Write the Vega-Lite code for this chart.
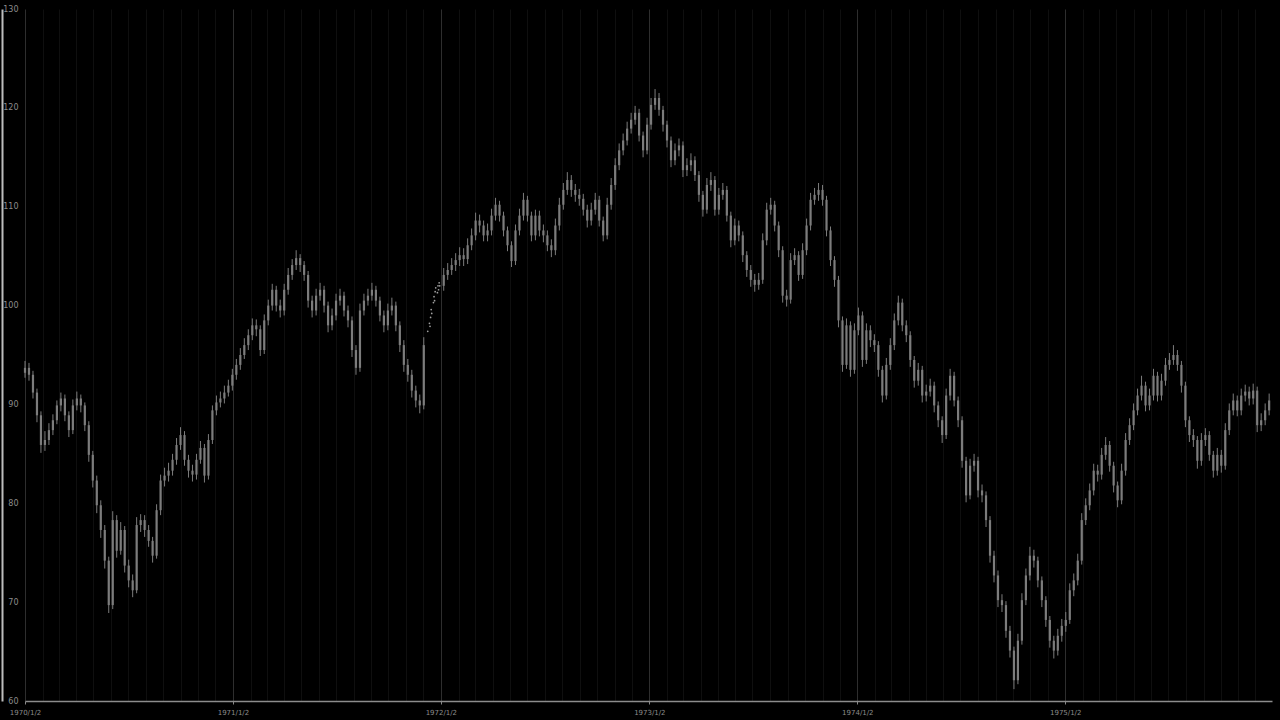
{
"$schema":"https://vega.github.io/schema/vega-lite/v6.json",
"width":1247,"height":692,
"autosize":{"type":"none"},
"padding":{"left":25,"top":9,"right":8,"bottom":19},
"background":"#000000",
"config":{"view":{"stroke":null},"axis":{"labelFont":"DejaVu Sans","titleFont":"DejaVu Sans"}},
"data":{"values":[
{"t":"1970-01-02","o":93.2,"h":94.4,"l":92.7,"c":93.7},
{"t":"1970-01-09","o":93.7,"h":94.2,"l":92.4,"c":93.0},
{"t":"1970-01-16","o":93.0,"h":93.4,"l":90.6,"c":91.2},
{"t":"1970-01-23","o":91.2,"h":91.6,"l":88.2,"c":88.9},
{"t":"1970-01-30","o":88.9,"h":89.3,"l":85.1,"c":85.9},
{"t":"1970-02-06","o":85.9,"h":87.3,"l":85.3,"c":86.4},
{"t":"1970-02-13","o":86.4,"h":88.1,"l":85.9,"c":87.4},
{"t":"1970-02-20","o":87.4,"h":89.0,"l":86.9,"c":88.4},
{"t":"1970-02-27","o":88.4,"h":90.4,"l":88.0,"c":89.9},
{"t":"1970-03-06","o":89.9,"h":91.2,"l":89.3,"c":90.6},
{"t":"1970-03-13","o":90.6,"h":91.0,"l":88.3,"c":88.9},
{"t":"1970-03-20","o":88.9,"h":89.3,"l":86.7,"c":87.4},
{"t":"1970-03-27","o":87.4,"h":90.5,"l":87.0,"c":89.9},
{"t":"1970-04-03","o":89.9,"h":91.3,"l":89.4,"c":90.6},
{"t":"1970-04-10","o":90.6,"h":91.0,"l":89.2,"c":89.9},
{"t":"1970-04-17","o":89.9,"h":90.2,"l":87.3,"c":87.9},
{"t":"1970-04-24","o":87.9,"h":88.3,"l":84.2,"c":84.9},
{"t":"1970-05-01","o":84.9,"h":85.3,"l":81.6,"c":82.3},
{"t":"1970-05-08","o":82.3,"h":82.8,"l":79.0,"c":79.8},
{"t":"1970-05-15","o":79.8,"h":80.3,"l":76.5,"c":77.3},
{"t":"1970-05-22","o":77.3,"h":77.8,"l":73.4,"c":74.2},
{"t":"1970-05-29","o":74.2,"h":74.6,"l":68.9,"c":69.7},
{"t":"1970-06-05","o":69.7,"h":79.2,"l":69.3,"c":78.3},
{"t":"1970-06-12","o":78.3,"h":78.8,"l":74.5,"c":75.2},
{"t":"1970-06-19","o":75.2,"h":78.1,"l":74.8,"c":77.3},
{"t":"1970-06-26","o":77.3,"h":77.7,"l":73.0,"c":73.7},
{"t":"1970-07-03","o":73.7,"h":74.3,"l":71.5,"c":72.2},
{"t":"1970-07-10","o":72.2,"h":72.8,"l":70.5,"c":71.2},
{"t":"1970-07-17","o":71.2,"h":78.6,"l":70.9,"c":77.8},
{"t":"1970-07-24","o":77.8,"h":78.9,"l":77.1,"c":78.3},
{"t":"1970-07-31","o":78.3,"h":78.8,"l":76.6,"c":77.3},
{"t":"1970-08-07","o":77.3,"h":77.8,"l":75.6,"c":76.2},
{"t":"1970-08-14","o":76.2,"h":76.6,"l":74.0,"c":74.7},
{"t":"1970-08-21","o":74.7,"h":79.9,"l":74.4,"c":79.3},
{"t":"1970-08-28","o":79.3,"h":82.9,"l":78.8,"c":82.3},
{"t":"1970-09-04","o":82.3,"h":83.6,"l":81.7,"c":82.8},
{"t":"1970-09-11","o":82.8,"h":84.1,"l":82.2,"c":83.3},
{"t":"1970-09-18","o":83.3,"h":85.0,"l":82.8,"c":84.4},
{"t":"1970-09-25","o":84.4,"h":86.6,"l":83.9,"c":85.9},
{"t":"1970-10-02","o":85.9,"h":87.7,"l":85.4,"c":86.9},
{"t":"1970-10-09","o":86.9,"h":87.3,"l":83.8,"c":84.4},
{"t":"1970-10-16","o":84.4,"h":84.9,"l":82.6,"c":83.3},
{"t":"1970-10-23","o":83.3,"h":83.9,"l":82.2,"c":82.9},
{"t":"1970-10-30","o":82.9,"h":85.0,"l":82.4,"c":84.4},
{"t":"1970-11-06","o":84.4,"h":86.3,"l":84.0,"c":85.6},
{"t":"1970-11-13","o":85.6,"h":86.0,"l":82.1,"c":82.8},
{"t":"1970-11-20","o":82.8,"h":87.0,"l":82.4,"c":86.4},
{"t":"1970-11-27","o":86.4,"h":89.9,"l":86.0,"c":89.4},
{"t":"1970-12-04","o":89.4,"h":90.9,"l":88.9,"c":90.2},
{"t":"1970-12-11","o":90.2,"h":91.3,"l":89.7,"c":90.6},
{"t":"1970-12-18","o":90.6,"h":91.9,"l":90.1,"c":91.2},
{"t":"1970-12-25","o":91.2,"h":92.5,"l":90.8,"c":91.9},
{"t":"1971-01-01","o":91.9,"h":93.6,"l":91.4,"c":93.0},
{"t":"1971-01-08","o":93.0,"h":94.6,"l":92.5,"c":94.0},
{"t":"1971-01-15","o":94.0,"h":95.7,"l":93.5,"c":95.0},
{"t":"1971-01-22","o":95.0,"h":96.7,"l":94.6,"c":96.0},
{"t":"1971-01-29","o":96.0,"h":97.6,"l":95.5,"c":97.0},
{"t":"1971-02-05","o":97.0,"h":98.7,"l":96.5,"c":98.0},
{"t":"1971-02-12","o":98.0,"h":98.6,"l":96.9,"c":97.6},
{"t":"1971-02-19","o":97.6,"h":98.0,"l":94.9,"c":95.5},
{"t":"1971-02-26","o":95.5,"h":99.1,"l":95.1,"c":98.5},
{"t":"1971-03-05","o":98.5,"h":100.6,"l":98.0,"c":100.0},
{"t":"1971-03-12","o":100.0,"h":102.2,"l":99.5,"c":101.6},
{"t":"1971-03-19","o":101.6,"h":102.0,"l":99.4,"c":100.0},
{"t":"1971-03-26","o":100.0,"h":100.6,"l":98.8,"c":99.5},
{"t":"1971-04-02","o":99.5,"h":102.2,"l":99.0,"c":101.6},
{"t":"1971-04-09","o":101.6,"h":103.8,"l":101.1,"c":103.1},
{"t":"1971-04-16","o":103.1,"h":104.7,"l":102.6,"c":104.1},
{"t":"1971-04-23","o":104.1,"h":105.6,"l":103.6,"c":104.8},
{"t":"1971-04-30","o":104.8,"h":105.2,"l":103.4,"c":104.1},
{"t":"1971-05-07","o":104.1,"h":104.5,"l":102.5,"c":103.1},
{"t":"1971-05-14","o":103.1,"h":103.5,"l":99.8,"c":100.5},
{"t":"1971-05-21","o":100.5,"h":101.0,"l":98.8,"c":99.5},
{"t":"1971-05-28","o":99.5,"h":101.7,"l":99.0,"c":101.0},
{"t":"1971-06-04","o":101.0,"h":102.3,"l":100.5,"c":101.6},
{"t":"1971-06-11","o":101.6,"h":102.0,"l":99.3,"c":100.0},
{"t":"1971-06-18","o":100.0,"h":100.4,"l":97.3,"c":98.0},
{"t":"1971-06-25","o":98.0,"h":99.7,"l":97.5,"c":99.0},
{"t":"1971-07-02","o":99.0,"h":101.2,"l":98.5,"c":100.5},
{"t":"1971-07-09","o":100.5,"h":101.7,"l":100.0,"c":101.0},
{"t":"1971-07-16","o":101.0,"h":101.4,"l":98.9,"c":99.5},
{"t":"1971-07-23","o":99.5,"h":100.0,"l":97.8,"c":98.5},
{"t":"1971-07-30","o":98.5,"h":98.9,"l":94.8,"c":95.5},
{"t":"1971-08-06","o":95.5,"h":96.0,"l":93.0,"c":93.7},
{"t":"1971-08-13","o":93.7,"h":100.2,"l":93.3,"c":99.5},
{"t":"1971-08-20","o":99.5,"h":101.2,"l":99.0,"c":100.5},
{"t":"1971-08-27","o":100.5,"h":101.7,"l":100.0,"c":101.0},
{"t":"1971-09-03","o":101.0,"h":102.3,"l":100.5,"c":101.6},
{"t":"1971-09-10","o":101.6,"h":102.0,"l":99.9,"c":100.5},
{"t":"1971-09-17","o":100.5,"h":100.9,"l":98.4,"c":99.0},
{"t":"1971-09-24","o":99.0,"h":99.5,"l":97.3,"c":98.0},
{"t":"1971-10-01","o":98.0,"h":100.2,"l":97.5,"c":99.5},
{"t":"1971-10-08","o":99.5,"h":100.8,"l":99.0,"c":100.0},
{"t":"1971-10-15","o":100.0,"h":100.4,"l":97.4,"c":98.0},
{"t":"1971-10-22","o":98.0,"h":98.4,"l":95.3,"c":96.0},
{"t":"1971-10-29","o":96.0,"h":96.5,"l":93.3,"c":94.0},
{"t":"1971-11-05","o":94.0,"h":94.6,"l":92.3,"c":93.0},
{"t":"1971-11-12","o":93.0,"h":93.5,"l":90.7,"c":91.4},
{"t":"1971-11-19","o":91.4,"h":91.9,"l":89.7,"c":90.4},
{"t":"1971-11-26","o":90.4,"h":91.0,"l":89.1,"c":89.9},
{"t":"1971-12-03","o":89.9,"h":96.8,"l":89.5,"c":96.0},
{"t":"1971-12-10","c":97.4},
{"t":"1971-12-13","c":98.2},
{"t":"1971-12-14","c":97.9},
{"t":"1971-12-15","c":98.8},
{"t":"1971-12-16","c":99.6},
{"t":"1971-12-17","c":99.2},
{"t":"1971-12-20","c":100.3},
{"t":"1971-12-21","c":100.9},
{"t":"1971-12-22","c":100.5},
{"t":"1971-12-23","c":101.4},
{"t":"1971-12-24","c":101.8},
{"t":"1971-12-27","c":101.3},
{"t":"1971-12-28","c":102.0},
{"t":"1971-12-29","c":101.6},
{"t":"1971-12-30","c":102.3},
{"t":"1971-12-31","c":102.0},
{"t":"1972-01-07","o":102.0,"h":103.8,"l":101.5,"c":103.1},
{"t":"1972-01-14","o":103.1,"h":104.3,"l":102.6,"c":103.6},
{"t":"1972-01-21","o":103.6,"h":104.8,"l":103.1,"c":104.1},
{"t":"1972-01-28","o":104.1,"h":105.3,"l":103.5,"c":104.6},
{"t":"1972-02-04","o":104.6,"h":105.9,"l":104.0,"c":105.1},
{"t":"1972-02-11","o":105.1,"h":105.8,"l":104.0,"c":104.7},
{"t":"1972-02-18","o":104.7,"h":106.8,"l":104.2,"c":106.1},
{"t":"1972-02-25","o":106.1,"h":107.8,"l":105.6,"c":107.1},
{"t":"1972-03-03","o":107.1,"h":109.4,"l":106.6,"c":108.6},
{"t":"1972-03-10","o":108.6,"h":109.2,"l":107.4,"c":108.1},
{"t":"1972-03-17","o":108.1,"h":108.6,"l":106.5,"c":107.1},
{"t":"1972-03-24","o":107.1,"h":108.3,"l":106.5,"c":107.6},
{"t":"1972-03-31","o":107.6,"h":109.8,"l":107.1,"c":109.1},
{"t":"1972-04-07","o":109.1,"h":110.9,"l":108.6,"c":110.2},
{"t":"1972-04-14","o":110.2,"h":110.6,"l":108.5,"c":109.1},
{"t":"1972-04-21","o":109.1,"h":109.5,"l":107.0,"c":107.6},
{"t":"1972-04-28","o":107.6,"h":108.0,"l":105.5,"c":106.1},
{"t":"1972-05-05","o":106.1,"h":106.5,"l":103.9,"c":104.5},
{"t":"1972-05-12","o":104.5,"h":108.2,"l":104.1,"c":107.6},
{"t":"1972-05-19","o":107.6,"h":109.8,"l":107.1,"c":109.1},
{"t":"1972-05-26","o":109.1,"h":111.4,"l":108.6,"c":110.7},
{"t":"1972-06-02","o":110.7,"h":111.1,"l":108.5,"c":109.1},
{"t":"1972-06-09","o":109.1,"h":109.5,"l":106.5,"c":107.1},
{"t":"1972-06-16","o":107.1,"h":109.7,"l":106.6,"c":109.1},
{"t":"1972-06-23","o":109.1,"h":109.6,"l":107.0,"c":107.6},
{"t":"1972-06-30","o":107.6,"h":108.2,"l":106.4,"c":107.1},
{"t":"1972-07-07","o":107.1,"h":107.6,"l":105.5,"c":106.1},
{"t":"1972-07-14","o":106.1,"h":106.7,"l":104.9,"c":105.6},
{"t":"1972-07-21","o":105.6,"h":108.8,"l":105.1,"c":108.1},
{"t":"1972-07-28","o":108.1,"h":110.9,"l":107.6,"c":110.2},
{"t":"1972-08-04","o":110.2,"h":112.4,"l":109.7,"c":111.7},
{"t":"1972-08-11","o":111.7,"h":113.5,"l":111.2,"c":112.7},
{"t":"1972-08-18","o":112.7,"h":113.2,"l":111.0,"c":111.7},
{"t":"1972-08-25","o":111.7,"h":112.3,"l":110.5,"c":111.2},
{"t":"1972-09-01","o":111.2,"h":111.8,"l":110.1,"c":110.8},
{"t":"1972-09-08","o":110.8,"h":111.3,"l":109.1,"c":109.7},
{"t":"1972-09-15","o":109.7,"h":110.2,"l":107.9,"c":108.6},
{"t":"1972-09-22","o":108.6,"h":110.4,"l":108.1,"c":109.7},
{"t":"1972-09-29","o":109.7,"h":111.4,"l":109.2,"c":110.7},
{"t":"1972-10-06","o":110.7,"h":111.1,"l":108.0,"c":108.6},
{"t":"1972-10-13","o":108.6,"h":109.0,"l":106.5,"c":107.1},
{"t":"1972-10-20","o":107.1,"h":110.9,"l":106.7,"c":110.2},
{"t":"1972-10-27","o":110.2,"h":112.9,"l":109.7,"c":112.2},
{"t":"1972-11-03","o":112.2,"h":114.9,"l":111.7,"c":114.2},
{"t":"1972-11-10","o":114.2,"h":116.4,"l":113.7,"c":115.7},
{"t":"1972-11-17","o":115.7,"h":117.4,"l":115.2,"c":116.7},
{"t":"1972-11-24","o":116.7,"h":118.6,"l":116.2,"c":117.9},
{"t":"1972-12-01","o":117.9,"h":119.5,"l":117.4,"c":118.8},
{"t":"1972-12-08","o":118.8,"h":120.2,"l":118.3,"c":119.5},
{"t":"1972-12-15","o":119.5,"h":119.9,"l":116.6,"c":117.2},
{"t":"1972-12-22","o":117.2,"h":117.6,"l":115.0,"c":115.7},
{"t":"1972-12-29","o":115.7,"h":119.0,"l":115.3,"c":118.3},
{"t":"1973-01-05","o":118.3,"h":121.0,"l":117.8,"c":120.3},
{"t":"1973-01-12","o":120.3,"h":121.9,"l":119.8,"c":121.0},
{"t":"1973-01-19","o":121.0,"h":121.5,"l":119.2,"c":119.8},
{"t":"1973-01-26","o":119.8,"h":120.2,"l":117.6,"c":118.3},
{"t":"1973-02-02","o":118.3,"h":118.7,"l":116.0,"c":116.7},
{"t":"1973-02-09","o":116.7,"h":117.1,"l":114.0,"c":114.7},
{"t":"1973-02-16","o":114.7,"h":116.4,"l":114.2,"c":115.7},
{"t":"1973-02-23","o":115.7,"h":116.9,"l":115.1,"c":116.2},
{"t":"1973-03-02","o":116.2,"h":116.6,"l":113.0,"c":113.7},
{"t":"1973-03-09","o":113.7,"h":114.9,"l":113.1,"c":114.2},
{"t":"1973-03-16","o":114.2,"h":115.4,"l":113.6,"c":114.7},
{"t":"1973-03-23","o":114.7,"h":115.1,"l":112.6,"c":113.2},
{"t":"1973-03-30","o":113.2,"h":113.6,"l":110.5,"c":111.2},
{"t":"1973-04-06","o":111.2,"h":111.6,"l":109.0,"c":109.7},
{"t":"1973-04-13","o":109.7,"h":112.9,"l":109.3,"c":112.2},
{"t":"1973-04-20","o":112.2,"h":113.5,"l":111.6,"c":112.7},
{"t":"1973-04-27","o":112.7,"h":113.1,"l":109.1,"c":109.7},
{"t":"1973-05-04","o":109.7,"h":111.9,"l":109.2,"c":111.2},
{"t":"1973-05-11","o":111.2,"h":112.4,"l":110.7,"c":111.7},
{"t":"1973-05-18","o":111.7,"h":112.1,"l":108.5,"c":109.1},
{"t":"1973-05-25","o":109.1,"h":109.5,"l":105.9,"c":106.6},
{"t":"1973-06-01","o":106.6,"h":108.8,"l":106.1,"c":108.1},
{"t":"1973-06-08","o":108.1,"h":108.6,"l":106.5,"c":107.1},
{"t":"1973-06-15","o":107.1,"h":107.5,"l":104.4,"c":105.1},
{"t":"1973-06-22","o":105.1,"h":105.5,"l":102.9,"c":103.6},
{"t":"1973-06-29","o":103.6,"h":104.1,"l":101.9,"c":102.6},
{"t":"1973-07-06","o":102.6,"h":103.2,"l":101.4,"c":102.1},
{"t":"1973-07-13","o":102.1,"h":103.3,"l":101.6,"c":102.6},
{"t":"1973-07-20","o":102.6,"h":107.3,"l":102.2,"c":106.6},
{"t":"1973-07-27","o":106.6,"h":110.4,"l":106.1,"c":109.7},
{"t":"1973-08-03","o":109.7,"h":110.9,"l":109.2,"c":110.2},
{"t":"1973-08-10","o":110.2,"h":110.6,"l":107.5,"c":108.1},
{"t":"1973-08-17","o":108.1,"h":108.5,"l":104.9,"c":105.6},
{"t":"1973-08-24","o":105.6,"h":106.0,"l":100.3,"c":101.0},
{"t":"1973-08-31","o":101.0,"h":101.6,"l":99.9,"c":100.6},
{"t":"1973-09-07","o":100.6,"h":105.3,"l":100.2,"c":104.6},
{"t":"1973-09-14","o":104.6,"h":105.8,"l":104.1,"c":105.1},
{"t":"1973-09-21","o":105.1,"h":105.5,"l":102.5,"c":103.1},
{"t":"1973-09-28","o":103.1,"h":106.3,"l":102.7,"c":105.6},
{"t":"1973-10-05","o":105.6,"h":108.8,"l":105.1,"c":108.1},
{"t":"1973-10-12","o":108.1,"h":111.4,"l":107.6,"c":110.7},
{"t":"1973-10-19","o":110.7,"h":111.9,"l":110.2,"c":111.2},
{"t":"1973-10-26","o":111.2,"h":112.4,"l":110.6,"c":111.7},
{"t":"1973-11-02","o":111.7,"h":112.2,"l":110.1,"c":110.7},
{"t":"1973-11-09","o":110.7,"h":111.1,"l":107.0,"c":107.6},
{"t":"1973-11-16","o":107.6,"h":108.0,"l":104.0,"c":104.6},
{"t":"1973-11-23","o":104.6,"h":105.0,"l":101.9,"c":102.6},
{"t":"1973-11-30","o":102.6,"h":103.0,"l":97.8,"c":98.5},
{"t":"1973-12-07","o":98.5,"h":98.9,"l":93.3,"c":94.0},
{"t":"1973-12-14","o":94.0,"h":98.7,"l":93.6,"c":98.0},
{"t":"1973-12-21","o":98.0,"h":98.4,"l":92.8,"c":93.5},
{"t":"1973-12-28","o":93.5,"h":98.2,"l":93.1,"c":97.5},
{"t":"1974-01-04","o":97.5,"h":99.8,"l":97.0,"c":99.0},
{"t":"1974-01-11","o":99.0,"h":99.4,"l":93.8,"c":94.5},
{"t":"1974-01-18","o":94.5,"h":98.2,"l":94.1,"c":97.5},
{"t":"1974-01-25","o":97.5,"h":98.0,"l":95.8,"c":96.5},
{"t":"1974-02-01","o":96.5,"h":97.1,"l":95.3,"c":96.0},
{"t":"1974-02-08","o":96.0,"h":96.4,"l":92.8,"c":93.5},
{"t":"1974-02-15","o":93.5,"h":93.9,"l":90.2,"c":90.9},
{"t":"1974-02-22","o":90.9,"h":94.7,"l":90.5,"c":94.0},
{"t":"1974-03-01","o":94.0,"h":96.7,"l":93.5,"c":96.0},
{"t":"1974-03-08","o":96.0,"h":99.2,"l":95.5,"c":98.5},
{"t":"1974-03-15","o":98.5,"h":101.0,"l":98.0,"c":100.3},
{"t":"1974-03-22","o":100.3,"h":100.7,"l":97.4,"c":98.0},
{"t":"1974-03-29","o":98.0,"h":98.5,"l":96.3,"c":97.0},
{"t":"1974-04-05","o":97.0,"h":97.4,"l":93.8,"c":94.5},
{"t":"1974-04-12","o":94.5,"h":94.9,"l":91.7,"c":92.4},
{"t":"1974-04-19","o":92.4,"h":94.2,"l":91.9,"c":93.5},
{"t":"1974-04-26","o":93.5,"h":93.9,"l":90.2,"c":90.9},
{"t":"1974-05-03","o":90.9,"h":92.0,"l":90.3,"c":91.3},
{"t":"1974-05-10","o":91.3,"h":92.6,"l":90.8,"c":91.9},
{"t":"1974-05-17","o":91.9,"h":92.3,"l":89.2,"c":89.9},
{"t":"1974-05-24","o":89.9,"h":90.3,"l":87.7,"c":88.4},
{"t":"1974-05-31","o":88.4,"h":88.8,"l":86.1,"c":86.9},
{"t":"1974-06-07","o":86.9,"h":91.6,"l":86.5,"c":90.9},
{"t":"1974-06-14","o":90.9,"h":93.6,"l":90.4,"c":92.9},
{"t":"1974-06-21","o":92.9,"h":93.3,"l":89.8,"c":90.4},
{"t":"1974-06-28","o":90.4,"h":90.8,"l":87.7,"c":88.4},
{"t":"1974-07-05","o":88.4,"h":88.8,"l":83.6,"c":84.3},
{"t":"1974-07-12","o":84.3,"h":84.7,"l":80.1,"c":80.8},
{"t":"1974-07-19","o":80.8,"h":84.5,"l":80.4,"c":83.8},
{"t":"1974-07-26","o":83.8,"h":85.0,"l":83.2,"c":84.3},
{"t":"1974-08-02","o":84.3,"h":84.7,"l":80.6,"c":81.3},
{"t":"1974-08-09","o":81.3,"h":81.9,"l":80.1,"c":80.8},
{"t":"1974-08-16","o":80.8,"h":81.2,"l":77.6,"c":78.3},
{"t":"1974-08-23","o":78.3,"h":78.7,"l":74.0,"c":74.7},
{"t":"1974-08-30","o":74.7,"h":75.2,"l":72.0,"c":72.7},
{"t":"1974-09-06","o":72.7,"h":73.2,"l":69.5,"c":70.2},
{"t":"1974-09-13","o":70.2,"h":70.8,"l":69.0,"c":69.7},
{"t":"1974-09-20","o":69.7,"h":70.1,"l":66.4,"c":67.1},
{"t":"1974-09-27","o":67.1,"h":67.6,"l":64.4,"c":65.1},
{"t":"1974-10-04","o":65.1,"h":65.5,"l":61.2,"c":62.1},
{"t":"1974-10-11","o":62.1,"h":66.8,"l":61.7,"c":66.1},
{"t":"1974-10-18","o":66.1,"h":70.9,"l":65.7,"c":70.2},
{"t":"1974-10-25","o":70.2,"h":73.4,"l":69.7,"c":72.7},
{"t":"1974-11-01","o":72.7,"h":75.6,"l":72.2,"c":74.7},
{"t":"1974-11-08","o":74.7,"h":75.3,"l":73.5,"c":74.2},
{"t":"1974-11-15","o":74.2,"h":74.6,"l":71.5,"c":72.2},
{"t":"1974-11-22","o":72.2,"h":72.6,"l":69.5,"c":70.2},
{"t":"1974-11-29","o":70.2,"h":70.6,"l":67.5,"c":68.2},
{"t":"1974-12-06","o":68.2,"h":68.6,"l":65.4,"c":66.1},
{"t":"1974-12-13","o":66.1,"h":66.6,"l":64.3,"c":65.1},
{"t":"1974-12-20","o":65.1,"h":67.3,"l":64.6,"c":66.6},
{"t":"1974-12-27","o":66.6,"h":68.3,"l":66.0,"c":67.6},
{"t":"1975-01-03","o":67.6,"h":69.0,"l":67.0,"c":68.2},
{"t":"1975-01-10","o":68.2,"h":71.9,"l":67.8,"c":71.2},
{"t":"1975-01-17","o":71.2,"h":72.9,"l":70.6,"c":72.2},
{"t":"1975-01-24","o":72.2,"h":74.9,"l":71.7,"c":74.2},
{"t":"1975-01-31","o":74.2,"h":79.0,"l":73.8,"c":78.3},
{"t":"1975-02-07","o":78.3,"h":80.5,"l":77.8,"c":79.8},
{"t":"1975-02-14","o":79.8,"h":82.0,"l":79.3,"c":81.3},
{"t":"1975-02-21","o":81.3,"h":84.0,"l":80.8,"c":83.3},
{"t":"1975-02-28","o":83.3,"h":83.9,"l":82.2,"c":82.9},
{"t":"1975-03-07","o":82.9,"h":85.6,"l":82.4,"c":84.9},
{"t":"1975-03-14","o":84.9,"h":86.7,"l":84.4,"c":85.9},
{"t":"1975-03-21","o":85.9,"h":86.3,"l":83.2,"c":83.8},
{"t":"1975-03-28","o":83.8,"h":84.2,"l":81.1,"c":81.8},
{"t":"1975-04-04","o":81.8,"h":82.2,"l":79.6,"c":80.3},
{"t":"1975-04-11","o":80.3,"h":84.0,"l":79.9,"c":83.3},
{"t":"1975-04-18","o":83.3,"h":87.1,"l":82.8,"c":86.4},
{"t":"1975-04-25","o":86.4,"h":88.6,"l":85.9,"c":87.9},
{"t":"1975-05-02","o":87.9,"h":90.1,"l":87.4,"c":89.4},
{"t":"1975-05-09","o":89.4,"h":91.6,"l":88.9,"c":90.9},
{"t":"1975-05-16","o":90.9,"h":92.9,"l":90.4,"c":91.9},
{"t":"1975-05-23","o":91.9,"h":92.3,"l":89.3,"c":89.9},
{"t":"1975-05-30","o":89.9,"h":91.6,"l":89.4,"c":90.9},
{"t":"1975-06-06","o":90.9,"h":93.6,"l":90.4,"c":92.9},
{"t":"1975-06-13","o":92.9,"h":93.3,"l":90.3,"c":90.9},
{"t":"1975-06-20","o":90.9,"h":93.1,"l":90.4,"c":92.4},
{"t":"1975-06-27","o":92.4,"h":94.7,"l":91.9,"c":94.0},
{"t":"1975-07-04","o":94.0,"h":95.2,"l":93.5,"c":94.5},
{"t":"1975-07-11","o":94.5,"h":96.0,"l":94.0,"c":95.0},
{"t":"1975-07-18","o":95.0,"h":95.5,"l":93.4,"c":94.0},
{"t":"1975-07-25","o":94.0,"h":94.4,"l":91.2,"c":91.9},
{"t":"1975-08-01","o":91.9,"h":92.3,"l":87.7,"c":88.4},
{"t":"1975-08-08","o":88.4,"h":88.8,"l":86.2,"c":86.9},
{"t":"1975-08-15","o":86.9,"h":87.5,"l":85.7,"c":86.4},
{"t":"1975-08-22","o":86.4,"h":86.8,"l":83.5,"c":84.3},
{"t":"1975-08-29","o":84.3,"h":87.1,"l":83.8,"c":86.4},
{"t":"1975-09-05","o":86.4,"h":87.6,"l":85.8,"c":86.9},
{"t":"1975-09-12","o":86.9,"h":87.3,"l":84.3,"c":84.9},
{"t":"1975-09-19","o":84.9,"h":85.3,"l":82.6,"c":83.3},
{"t":"1975-09-26","o":83.3,"h":85.6,"l":82.8,"c":84.9},
{"t":"1975-10-03","o":84.9,"h":85.4,"l":83.1,"c":83.8},
{"t":"1975-10-10","o":83.8,"h":88.1,"l":83.4,"c":87.4},
{"t":"1975-10-17","o":87.4,"h":90.1,"l":86.9,"c":89.4},
{"t":"1975-10-24","o":89.4,"h":91.1,"l":88.9,"c":90.4},
{"t":"1975-10-31","o":90.4,"h":90.9,"l":88.8,"c":89.4},
{"t":"1975-11-07","o":89.4,"h":91.6,"l":88.9,"c":90.9},
{"t":"1975-11-14","o":90.9,"h":92.0,"l":90.3,"c":91.3},
{"t":"1975-11-21","o":91.3,"h":91.8,"l":89.9,"c":90.6},
{"t":"1975-11-28","o":90.6,"h":92.1,"l":90.0,"c":91.4},
{"t":"1975-12-05","o":91.4,"h":91.8,"l":87.2,"c":87.9},
{"t":"1975-12-12","o":87.9,"h":89.1,"l":87.3,"c":88.4},
{"t":"1975-12-19","o":88.4,"h":90.1,"l":87.9,"c":89.4},
{"t":"1975-12-26","o":89.4,"h":91.1,"l":88.9,"c":90.4}
]},
"encoding":{
 "x":{"field":"t","type":"temporal",
  "scale":{"type":"utc","padding":0,"domain":[{"year":1970,"month":1,"date":2,"utc":true},{"year":1975,"month":12,"date":31,"utc":true}]},
  "axis":{"title":null,"format":"%Y/%-m/%-d",
   "values":[
    {"year":1970,"month":1,"date":2,"utc":true},{"year":1970,"month":2,"date":2,"utc":true},{"year":1970,"month":3,"date":2,"utc":true},{"year":1970,"month":4,"date":2,"utc":true},{"year":1970,"month":5,"date":2,"utc":true},{"year":1970,"month":6,"date":2,"utc":true},{"year":1970,"month":7,"date":2,"utc":true},{"year":1970,"month":8,"date":2,"utc":true},{"year":1970,"month":9,"date":2,"utc":true},{"year":1970,"month":10,"date":2,"utc":true},{"year":1970,"month":11,"date":2,"utc":true},{"year":1970,"month":12,"date":2,"utc":true},
    {"year":1971,"month":1,"date":2,"utc":true},{"year":1971,"month":2,"date":2,"utc":true},{"year":1971,"month":3,"date":2,"utc":true},{"year":1971,"month":4,"date":2,"utc":true},{"year":1971,"month":5,"date":2,"utc":true},{"year":1971,"month":6,"date":2,"utc":true},{"year":1971,"month":7,"date":2,"utc":true},{"year":1971,"month":8,"date":2,"utc":true},{"year":1971,"month":9,"date":2,"utc":true},{"year":1971,"month":10,"date":2,"utc":true},{"year":1971,"month":11,"date":2,"utc":true},{"year":1971,"month":12,"date":2,"utc":true},
    {"year":1972,"month":1,"date":2,"utc":true},{"year":1972,"month":2,"date":2,"utc":true},{"year":1972,"month":3,"date":2,"utc":true},{"year":1972,"month":4,"date":2,"utc":true},{"year":1972,"month":5,"date":2,"utc":true},{"year":1972,"month":6,"date":2,"utc":true},{"year":1972,"month":7,"date":2,"utc":true},{"year":1972,"month":8,"date":2,"utc":true},{"year":1972,"month":9,"date":2,"utc":true},{"year":1972,"month":10,"date":2,"utc":true},{"year":1972,"month":11,"date":2,"utc":true},{"year":1972,"month":12,"date":2,"utc":true},
    {"year":1973,"month":1,"date":2,"utc":true},{"year":1973,"month":2,"date":2,"utc":true},{"year":1973,"month":3,"date":2,"utc":true},{"year":1973,"month":4,"date":2,"utc":true},{"year":1973,"month":5,"date":2,"utc":true},{"year":1973,"month":6,"date":2,"utc":true},{"year":1973,"month":7,"date":2,"utc":true},{"year":1973,"month":8,"date":2,"utc":true},{"year":1973,"month":9,"date":2,"utc":true},{"year":1973,"month":10,"date":2,"utc":true},{"year":1973,"month":11,"date":2,"utc":true},{"year":1973,"month":12,"date":2,"utc":true},
    {"year":1974,"month":1,"date":2,"utc":true},{"year":1974,"month":2,"date":2,"utc":true},{"year":1974,"month":3,"date":2,"utc":true},{"year":1974,"month":4,"date":2,"utc":true},{"year":1974,"month":5,"date":2,"utc":true},{"year":1974,"month":6,"date":2,"utc":true},{"year":1974,"month":7,"date":2,"utc":true},{"year":1974,"month":8,"date":2,"utc":true},{"year":1974,"month":9,"date":2,"utc":true},{"year":1974,"month":10,"date":2,"utc":true},{"year":1974,"month":11,"date":2,"utc":true},{"year":1974,"month":12,"date":2,"utc":true},
    {"year":1975,"month":1,"date":2,"utc":true},{"year":1975,"month":2,"date":2,"utc":true},{"year":1975,"month":3,"date":2,"utc":true},{"year":1975,"month":4,"date":2,"utc":true},{"year":1975,"month":5,"date":2,"utc":true},{"year":1975,"month":6,"date":2,"utc":true},{"year":1975,"month":7,"date":2,"utc":true},{"year":1975,"month":8,"date":2,"utc":true},{"year":1975,"month":9,"date":2,"utc":true},{"year":1975,"month":10,"date":2,"utc":true},{"year":1975,"month":11,"date":2,"utc":true},{"year":1975,"month":12,"date":2,"utc":true}
   ],
   "labelExpr":"utcmonth(datum.value)==0 ? datum.label : ''",
   "labelOverlap":false,"labelFlush":false,"labelColor":"#8c8c8c","labelFontSize":7,"labelPadding":4,
   "grid":true,
   "gridColor":{"condition":{"test":"utcmonth(datum.value)==0","value":"#2e2e2e"},"value":"#0f0f0f"},
   "tickColor":{"condition":{"test":"utcmonth(datum.value)==0","value":"#888888"},"value":"transparent"},
   "tickSize":3,"domainColor":"#8c8c8c","domainWidth":1.5}
 }
},
"layer":[
 {"transform":[{"filter":"datum.h != null"}],
  "mark":{"type":"rule","color":"#7c7c7c","strokeWidth":1},
  "encoding":{
   "y":{"field":"l","type":"quantitative","scale":{"domain":[60,130],"nice":false,"zero":false},
    "axis":{"title":null,"values":[60,70,80,90,100,110,120,130],"offset":23,"domain":true,"domainColor":"#bdbdbd","domainWidth":2,"ticks":false,"tickSize":0,"grid":false,"labelPadding":-16,"labelAlign":"right","labelFlush":false,"labelColor":"#8c8c8c","labelFontSize":8}},
   "y2":{"field":"h"}}},
 {"transform":[{"filter":"datum.h != null"}],
  "mark":{"type":"bar","color":"#7c7c7c","width":2.2},
  "encoding":{"y":{"field":"o","type":"quantitative"},"y2":{"field":"c"}}},
 {"transform":[{"filter":"datum.h == null"}],
  "mark":{"type":"point","filled":true,"size":3,"color":"#a0a0a0","opacity":1},
  "encoding":{"y":{"field":"c","type":"quantitative"}}}
]
}
